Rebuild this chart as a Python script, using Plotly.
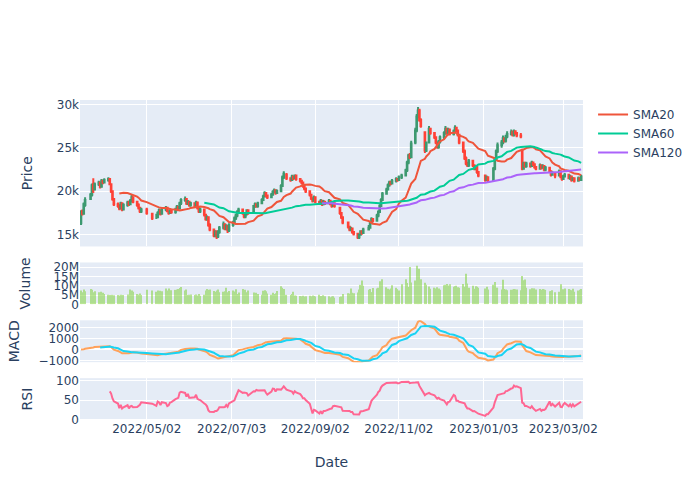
import pandas as pd
import plotly.graph_objects as go
from plotly.subplots import make_subplots

# Trading days (Tokyo calendar): weekdays minus exchange holidays
holidays = ['2022-03-21', '2022-04-29', '2022-05-03', '2022-05-04', '2022-05-05',
            '2022-07-18', '2022-08-11', '2022-09-19', '2022-09-23', '2022-10-10',
            '2022-11-03', '2022-11-23', '2023-01-02', '2023-01-03', '2023-01-09',
            '2023-02-23']
dates = pd.bdate_range('2022-03-15', '2023-03-15').difference(pd.to_datetime(holidays))

open_ = [
    16300, 17700, 17400, 18400,
    19100, 19600, 20800, 20200,
    20800, 21000, 20500, 21200, 21000,
    21300, 21400, 20800, 20000, 19100,
    18500, 18300, 18000, 18600, 17900,
    18400, 18700, 18500, 18900, 19300,
    18800, 18400, 18100, 17700,
    17900, 17400,
    17000, 17000, 17500, 17800, 17400,
    17900, 18100, 17700, 17500, 17800,
    17600, 17900, 18200, 18000, 18600,
    19000, 19100, 18600, 18800, 18400,
    18600, 18300, 18700, 18100, 17700,
    17900, 17300, 16800, 17000, 16100,
    15600, 14900, 15300, 14800, 15300,
    15800, 16200, 15700, 16000, 15500,
    16100, 16400, 16900, 17200, 17600,
    17900, 17500, 17100, 17400, 17800,
    17600, 18300, 18500, 18300,
    18600, 19000, 19400, 19800, 19500,
    19300, 19600, 19900, 20100, 19800,
    20000, 20600, 21600, 21900,
    21500, 21300, 21700, 21500, 21800,
    21400, 21200, 21000, 20600, 20300,
    20000, 19600, 19200, 18900, 19300,
    18800, 18600, 18900, 18500, 18800,
    18600, 18900, 18500, 18300, 18600,
    18100, 17500, 17000,
    16400, 15900, 15600, 15700, 15300,
    15100, 14700, 15000, 15400, 15200,
    15600, 15800, 16300, 16800,
    16600, 17200, 17600, 18300, 19000,
    19700, 20200, 20700, 21000, 20900,
    21200, 21400, 21300, 21600,
    21800, 22400, 23300, 24100, 23900,
    25600, 27000, 28600, 29300, 28200,
    26800, 24700, 25600, 27200,
    26700, 26200, 25600, 25100, 25700,
    26200, 26700, 27200, 26700, 27100,
    26600, 26900, 27300, 27000, 26500,
    25600, 24600, 23800, 23200, 23000,
    23500, 23000, 22600, 22800, 22200,
    21800, 21300, 21600,
    21300, 22600, 23700, 24600,
    25300, 25600, 26100, 25800, 26300,
    26600, 26800, 26500, 26900, 26700,
    26400, 24700, 22600, 23200, 22900,
    23200, 22900, 23300, 23100, 22800,
    22600, 23000, 22700, 22900, 22500,
    22700, 22300, 21900, 22100,
    21800, 22300, 21700, 21400, 21700,
    21900, 21500, 21700, 21300, 21500,
    21200, 21500, 21300,
]

high = [
    17800, 17900, 18700, 19300,
    19800, 20900, 21500, 21000,
    21200, 21100, 21400, 21300, 21500,
    21600, 21500, 20900, 20100, 19200,
    18700, 18500, 18800, 18700, 18600,
    18900, 18900, 19100, 19600, 19400,
    18900, 18600, 18200, 18100,
    18100, 17500,
    17400, 17700, 18000, 17900, 18100,
    18300, 18200, 17800, 17900, 17900,
    18100, 18400, 18300, 18800, 19200,
    19400, 19200, 19000, 18900, 18800,
    18700, 18900, 18800, 18200, 18100,
    18000, 17400, 17200, 17100, 16300,
    15700, 15500, 15500, 15500, 16000,
    16500, 16300, 16200, 16100, 16300,
    16600, 17100, 17400, 17800, 18100,
    18000, 17600, 17600, 17900, 17900,
    18400, 18700, 18600, 18800,
    19200, 19600, 20000, 19900, 19600,
    19800, 20100, 20300, 20200, 20200,
    20800, 21800, 22300, 22100,
    21600, 21900, 21800, 21900, 21900,
    21500, 21300, 21100, 20700, 20400,
    20100, 19700, 19300, 19500, 19400,
    18900, 19100, 19000, 19000, 18900,
    19100, 19000, 18600, 18700, 18700,
    18200, 17600, 17100,
    16500, 16000, 15900, 15800, 15400,
    15200, 15100, 15500, 15500, 15800,
    16100, 16500, 17000, 16900,
    17400, 17800, 18500, 19200, 19900,
    20400, 20900, 21200, 21200, 21400,
    21600, 21500, 21800, 22000,
    22600, 23500, 24300, 24400, 25800,
    27300, 28900, 29700, 29500, 28400,
    26900, 25700, 27500, 27300,
    26800, 26300, 25700, 25900, 26400,
    26900, 27500, 27300, 27300, 27200,
    27100, 27600, 27400, 27100, 26600,
    25700, 24800, 24000, 23400, 23700,
    23600, 23100, 23000, 22900, 22300,
    21900, 21800, 21700,
    22800, 23900, 24800, 25600,
    25900, 26400, 26200, 26500, 26900,
    27100, 27000, 27100, 27000, 26800,
    26700, 24900, 23400, 23400, 23400,
    23300, 23500, 23400, 23200, 22900,
    23200, 23100, 23100, 23000, 22900,
    22800, 22400, 22300, 22200,
    22500, 22400, 21800, 21900, 22100,
    22000, 21900, 21800, 21600, 21600,
    21700, 21600, 21900,
]

low = [
    16100, 17200, 17300, 18200,
    19000, 19400, 19800, 20100,
    20600, 20300, 20400, 20800, 20900,
    21100, 20700, 19800, 18900, 18300,
    18100, 17800, 17900, 17700, 17800,
    18200, 18300, 18400, 18700, 18600,
    18200, 17900, 17500, 17500,
    17300, 16700,
    16800, 16900, 17300, 17200, 17300,
    17700, 17600, 17300, 17400, 17400,
    17400, 17700, 17800, 17900, 18400,
    18800, 18400, 18400, 18200, 18200,
    18100, 18100, 17900, 17500, 17500,
    17100, 16600, 16600, 15900, 15400,
    14700, 14700, 14500, 14600, 15100,
    15600, 15500, 15500, 15200, 15300,
    15900, 16200, 16700, 17000, 17400,
    17300, 16900, 16900, 17200, 17300,
    17500, 18100, 18100, 18100,
    18500, 18900, 19300, 19300, 19100,
    19200, 19500, 19800, 19600, 19700,
    19900, 20500, 21400, 21300,
    21100, 21200, 21300, 21400, 21200,
    21000, 20800, 20400, 20100, 19800,
    19400, 19000, 18700, 18800, 18600,
    18400, 18400, 18300, 18400, 18400,
    18500, 18400, 18100, 18200, 18100,
    17300, 16800, 16200,
    15700, 15400, 15400, 15100, 14900,
    14500, 14500, 14900, 15000, 15100,
    15500, 15700, 16200, 16400,
    16500, 17000, 17500, 18200, 18900,
    19600, 20100, 20500, 20700, 20800,
    21000, 21100, 21200, 21400,
    21700, 22200, 23100, 23700, 23800,
    25400, 26800, 28400, 28000, 27300,
    24400, 24500, 25500, 26500,
    26000, 25400, 24900, 24900, 25500,
    26000, 26500, 26500, 26500, 26400,
    26400, 26700, 26800, 26300, 25400,
    24400, 23600, 23000, 22800, 22800,
    22800, 22400, 22400, 22000, 21600,
    21100, 21200, 21000,
    21200, 22400, 23500, 24400,
    25000, 25400, 25600, 25600, 26100,
    26400, 26300, 26300, 26500, 26200,
    26100, 22400, 22500, 22700, 22700,
    22700, 22800, 22900, 22600, 22400,
    22500, 22500, 22600, 22300, 22300,
    22100, 21700, 21800, 21500,
    21700, 21500, 21200, 21300, 21600,
    21400, 21300, 21100, 21200, 21000,
    21100, 21200, 21200,
]

close = [
    17600, 17400, 18500, 19000,
    19600, 20700, 20200, 20800,
    21000, 20500, 21200, 21000, 21300,
    21400, 20800, 20000, 19100, 18500,
    18300, 18000, 18600, 17900, 18400,
    18700, 18500, 18900, 19300, 18800,
    18400, 18100, 17700, 17900,
    17500, 16900,
    17000, 17500, 17800, 17400, 17900,
    18100, 17700, 17500, 17800, 17600,
    17900, 18200, 18000, 18600, 19000,
    19100, 18600, 18800, 18400, 18600,
    18300, 18700, 18100, 17700, 17900,
    17300, 16800, 17000, 16100, 15600,
    14900, 15300, 14800, 15300, 15800,
    16200, 15700, 16000, 15500, 16100,
    16400, 16900, 17200, 17600, 17900,
    17500, 17100, 17400, 17800, 17500,
    18300, 18500, 18300, 18600,
    19000, 19400, 19800, 19500, 19300,
    19600, 19900, 20100, 19800, 20000,
    20600, 21600, 22000, 21500,
    21300, 21700, 21500, 21800, 21400,
    21200, 21000, 20600, 20300, 20000,
    19600, 19200, 18900, 19300, 18800,
    18600, 18900, 18500, 18800, 18600,
    18900, 18500, 18300, 18600, 18300,
    17500, 17000, 16400,
    15900, 15600, 15700, 15300, 15100,
    14700, 15000, 15400, 15200, 15600,
    15800, 16300, 16800, 16600,
    17200, 17600, 18300, 19000, 19700,
    20200, 20700, 21000, 20900, 21200,
    21400, 21300, 21600, 21800,
    22400, 23300, 24100, 23900, 25500,
    27000, 28600, 29300, 28200, 27500,
    24700, 25600, 27200, 26700,
    26200, 25600, 25100, 25700, 26200,
    26700, 27200, 26700, 27100, 26600,
    26900, 27300, 27000, 26500, 25600,
    24600, 23800, 23200, 23000, 23500,
    23000, 22600, 22800, 22200, 21800,
    21300, 21600, 21200,
    22600, 23700, 24600, 25300,
    25600, 26100, 25800, 26300, 26600,
    26800, 26500, 26900, 26700, 26400,
    26300, 22600, 23200, 22900, 23200,
    22900, 23300, 23100, 22800, 22600,
    23000, 22700, 22900, 22500, 22700,
    22300, 21900, 22100, 21800,
    22300, 21700, 21400, 21700, 21900,
    21500, 21700, 21300, 21500, 21200,
    21500, 21300, 21700,
]

volume_m = [
    7.5, 6.5, 8.0, 7.0,
    8.2, 7.8, 6.5, 7.0,
    6.5, 5.8, 6.8, 6.2, 5.5,
    5.2, 5.0, 4.8, 5.1, 4.9,
    5.0, 4.8, 5.2, 4.6, 5.0,
    5.3, 5.0, 8.0, 7.5, 6.8,
    5.5, 5.2, 5.8, 5.0,
    7.8, 7.5,
    6.8, 7.4, 6.9, 7.3, 7.1,
    8.5, 7.5, 8.6, 7.3, 7.6,
    7.8, 8.0, 8.2, 8.8, 9.4,
    7.5, 8.0, 5.0, 5.2, 5.3,
    5.0, 5.3, 4.8, 5.5, 4.6,
    5.2, 7.5, 8.2, 7.8, 8.0,
    7.2, 6.8, 7.5, 8.0, 6.5,
    6.8, 7.1, 9.0, 6.5, 7.2,
    7.5, 6.9, 8.1, 5.6, 6.4,
    8.2, 7.3, 7.8, 6.5, 7.4,
    6.4, 5.8, 6.2, 5.5,
    5.2, 7.3, 7.6, 7.0, 5.8,
    5.2, 6.2, 5.6, 6.0, 7.2,
    9.8, 9.0, 8.2, 5.1,
    5.0, 5.5, 6.8, 4.8, 4.6,
    4.5, 4.3, 4.6, 4.2, 4.4,
    4.6, 4.3, 4.8, 4.5, 4.2,
    5.2, 4.5, 4.4, 4.9, 4.3,
    4.4, 3.8, 4.2, 4.4, 3.6,
    4.0, 4.2, 5.5,
    6.0, 5.8, 8.5, 6.2, 6.0,
    6.4, 8.0, 10.5, 12.8, 10.0,
    7.8, 8.2, 6.6, 8.8,
    8.6, 8.9, 12.5, 8.3, 13.5,
    9.2, 8.4, 8.0, 8.6, 10.3,
    9.0, 8.2, 7.5, 10.8,
    13.5, 11.5, 9.4, 20.2, 11.8,
    12.8, 20.8, 15.2, 19.2, 13.5,
    11.6, 10.5, 9.6, 8.4,
    9.0, 8.6, 9.2, 8.5, 7.8,
    10.3, 10.5, 11.0, 10.2, 10.8,
    9.5, 9.8, 10.0, 9.2, 9.0,
    10.9, 9.5, 16.5, 11.2, 9.0,
    10.0, 8.4, 9.8, 9.5, 9.0,
    8.5, 9.5, 8.0,
    10.5, 12.0, 8.4, 9.0,
    8.0, 13.2, 8.3, 8.0, 7.6,
    7.8, 8.0, 8.2, 8.1, 8.0,
    7.6, 15.3, 13.0, 13.4, 9.0,
    8.1, 8.7, 7.8, 8.6, 8.0,
    8.3, 7.9, 8.2, 8.0, 7.8,
    7.0, 7.2, 7.6, 6.5,
    6.8, 10.8, 7.9, 8.1, 8.5,
    8.2, 7.9, 7.6, 8.4, 6.8,
    7.4, 7.8, 8.2,
]

tick_dates = ['2022-05-02', '2022-07-03', '2022-09-02', '2022-11-02', '2023-01-03', '2023-03-02']

assert len(dates) == len(open_) == len(high) == len(low) == len(close) == len(volume_m), (
    len(dates), len(open_), len(high), len(low), len(close), len(volume_m))

volume = [v * 1e6 for v in volume_m]

cs = pd.Series(close, index=dates, dtype=float)
sma20 = cs.rolling(20).mean()
sma60 = cs.rolling(60).mean()
sma120 = cs.rolling(120).mean()
ema12 = cs.ewm(span=12).mean()
ema26 = cs.ewm(span=26).mean()
macd = ema12 - ema26
signal = macd.ewm(span=9, min_periods=10).mean()
delta = cs.diff()
gain = delta.clip(lower=0).rolling(14).mean()
loss = (-delta.clip(upper=0)).rolling(14).mean()
rsi = 100 - 100 / (1 + gain / loss)

fig = make_subplots(rows=4, cols=1, shared_xaxes=True, vertical_spacing=0.05,
                    row_heights=[0.7, 0.2, 0.2, 0.2])

fig.add_trace(go.Candlestick(x=dates, open=open_, high=high, low=low, close=close,
                             showlegend=False, name='Price'), row=1, col=1)
fig.add_trace(go.Scatter(x=dates, y=sma20, mode='lines', name='SMA20',
                         line=dict(color='#EF553B', width=2)), row=1, col=1)
fig.add_trace(go.Scatter(x=dates, y=sma60, mode='lines', name='SMA60',
                         line=dict(color='#00CC96', width=2)), row=1, col=1)
fig.add_trace(go.Scatter(x=dates, y=sma120, mode='lines', name='SMA120',
                         line=dict(color='#AB63FA', width=2)), row=1, col=1)
fig.add_trace(go.Bar(x=dates, y=volume, name='Volume', showlegend=False,
                     marker=dict(color='rgb(130,210,60)', line=dict(width=0)), opacity=0.55),
              row=2, col=1)
fig.add_trace(go.Scatter(x=dates, y=macd, mode='lines', name='MACD', showlegend=False,
                         line=dict(color='#FFA15A', width=2)), row=3, col=1)
fig.add_trace(go.Scatter(x=dates, y=signal, mode='lines', name='Signal', showlegend=False,
                         line=dict(color='#19D3F3', width=2)), row=3, col=1)
fig.add_trace(go.Scatter(x=dates, y=rsi, mode='lines', name='RSI', showlegend=False,
                         line=dict(color='#FF6692', width=2)), row=4, col=1)

fig.update_xaxes(tickvals=tick_dates, tickformat='%Y/%m/%d',
                 range=['2022-03-14 07:00', '2023-03-16 09:00'])
fig.update_layout(xaxis_rangeslider_visible=False, width=700, height=500,
                  font=dict(family='DejaVu Sans'))
fig.update_xaxes(title_text='Date', title_standoff=22, row=4, col=1)
fig.update_yaxes(title_text='Price', title_standoff=20, range=[13640, 30500], row=1, col=1)
fig.update_yaxes(title_text='Volume', title_standoff=19, range=[0, 22.6e6], row=2, col=1)
fig.update_yaxes(title_text='MACD', title_standoff=15, range=[-1150, 2650], row=3, col=1)
fig.update_yaxes(title_text='RSI', title_standoff=20, range=[-1, 106], row=4, col=1)

fig.write_html('out.html', config={'displayModeBar': False},
               post_script="document.body.style.margin='0';")
